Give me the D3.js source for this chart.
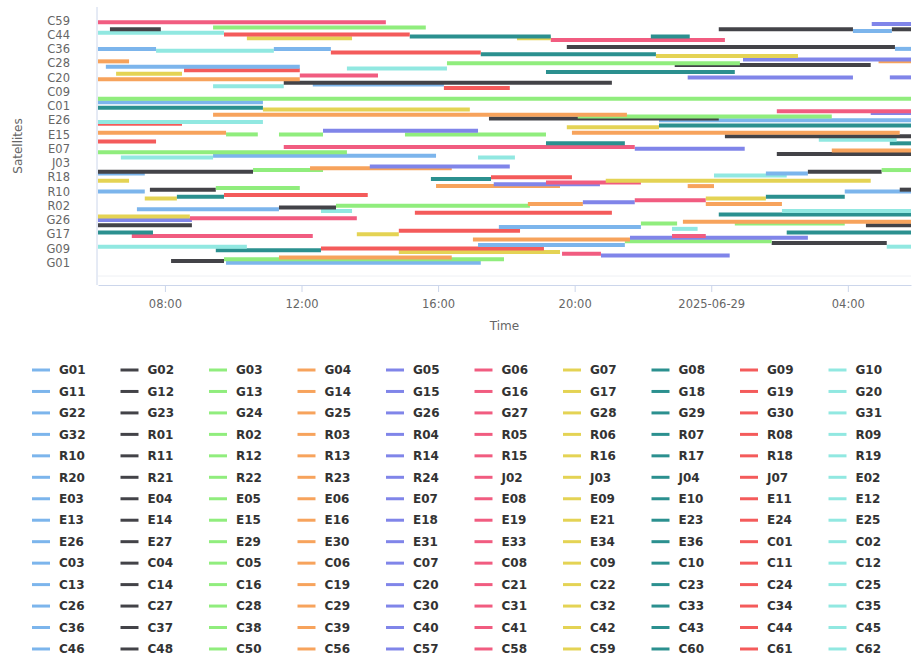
<!DOCTYPE html>
<html>
<head>
<meta charset="utf-8">
<script src="https://cdn.jsdelivr.net/npm/d3@7"></script>
<style>
  body { margin: 0; background: #fff; }
  svg { display: block; font-family: "DejaVu Sans", sans-serif; }
</style>
</head>
<body>
<svg id="chart" width="912" height="659"></svg>
<script>
// Series colours, cycled over the satellites in order
const palette = ["#7cb5ec", "#434348", "#90ed7d", "#f7a35c", "#8085e9",
                 "#f15c80", "#e4d354", "#2b908f", "#f45b5b", "#91e8e1"];

// Satellites per constellation
const gps = ["G01","G02","G03","G04","G05","G06","G07","G08","G09","G10",
             "G11","G12","G13","G14","G15","G16","G17","G18","G19","G20",
             "G22","G23","G24","G25","G26","G27","G28","G29","G30","G31","G32"];
const glonass = ["R01","R02","R03","R04","R05","R06","R07","R08","R09","R10",
                 "R11","R12","R13","R14","R15","R16","R17","R18","R19","R20",
                 "R21","R22","R23","R24"];
const qzss = ["J02","J03","J04","J07"];
const galileo = ["E02","E03","E04","E05","E06","E07","E08","E09","E10","E11",
                 "E12","E13","E14","E15","E16","E18","E19","E21","E23","E24",
                 "E25","E26","E27","E29","E30","E31","E33","E34","E36"];
const beidou = ["C01","C02","C03","C04","C05","C06","C07","C08","C09","C10",
                "C11","C12","C13","C14","C16","C19","C20","C21","C22","C23",
                "C24","C25","C26","C27","C28","C29","C30","C31","C32","C33",
                "C34","C35","C36","C37","C38","C39","C40","C41","C42","C43",
                "C44","C45","C46","C48","C50","C56","C57","C58","C59","C60",
                "C61","C62"];

// Visibility passes: [satellite, start, end], hours from 2025-06-28 00:00
const gpsPasses = [
  ["G01",9.79,17.25], ["G02",8.18,9.73], ["G03",9.73,17.93], ["G04",11.34,16.40],
  ["G05",20.77,24.54], ["G06",19.63,20.77], ["G07",14.85,19.57], ["G08",9.49,12.57],
  ["G09",12.57,19.10], ["G10",6.04,10.40], ["G10",29.14,29.85], ["G11",17.17,21.47],
  ["G12",25.77,29.14], ["G13",21.47,25.77], ["G14",17.02,21.62], ["G15",21.62,26.83],
  ["G16",7.03,12.33], ["G16",22.85,23.84], ["G17",13.62,14.85], ["G18",6.04,7.65],
  ["G18",26.21,29.85], ["G19",14.85,18.40], ["G20",22.85,23.60], ["G22",17.78,21.94],
  ["G23",6.04,8.79], ["G23",28.53,29.85], ["G24",21.94,23.00], ["G24",24.69,27.91],
  ["G25",23.17,29.85], ["G26",6.04,8.79], ["G27",8.73,13.62], ["G28",6.04,8.73],
  ["G29",24.22,29.85], ["G30",15.32,21.09], ["G31",12.57,13.48], ["G31",26.07,29.85],
  ["G32",7.18,11.34]
];
const glonassPasses = [
  ["R01",11.34,13.01], ["R02",13.01,18.69], ["R03",18.63,20.24], ["R03",23.84,26.07],
  ["R04",20.24,21.76], ["R05",21.76,23.84], ["R06",7.41,8.35], ["R06",23.84,25.60],
  ["R07",8.35,9.73], ["R07",25.60,27.91], ["R08",9.73,13.94], ["R10",6.04,7.41],
  ["R10",27.91,29.85], ["R11",7.56,9.49], ["R11",29.52,29.85], ["R12",9.49,11.95],
  ["R13",15.94,19.57], ["R13",23.31,24.08], ["R14",17.63,20.74], ["R15",19.16,21.94],
  ["R16",6.04,6.95], ["R16",20.91,28.67], ["R17",15.79,17.55], ["R18",17.55,19.92],
  ["R19",24.08,26.21], ["R20",6.04,7.41], ["R20",25.60,26.83], ["R21",6.04,10.58],
  ["R21",26.83,28.99], ["R22",10.58,12.63], ["R22",28.99,29.85], ["R23",12.25,16.40],
  ["R24",14.00,18.10]
];
const galileoPasses = [
  ["E02",6.71,9.41], ["E02",17.17,18.25], ["E03",9.41,15.94], ["E04",25.92,29.85],
  ["E05",6.04,13.33], ["E06",27.53,29.85], ["E07",21.76,24.98], ["E08",11.48,21.76],
  ["E10",19.16,21.47], ["E10",29.23,29.85], ["E11",6.04,7.74], ["E12",27.15,29.43],
  ["E14",24.40,29.85], ["E15",9.79,10.72], ["E15",11.34,12.63], ["E15",15.03,19.16],
  ["E16",6.04,9.79], ["E16",19.92,29.52], ["E18",12.63,17.17], ["E21",19.77,22.47],
  ["E23",22.47,29.85], ["E24",6.04,8.50], ["E25",6.04,10.87], ["E26",22.47,29.85],
  ["E27",17.49,24.22], ["E29",20.09,27.53], ["E30",9.41,21.53], ["E31",28.67,29.85],
  ["E33",25.92,29.85], ["E34",10.87,16.93], ["E36",6.04,10.87]
];
const beidouPasses = [
  ["C03",6.04,10.87], ["C05",6.04,29.85], ["C11",16.17,18.10], ["C12",9.41,11.48],
  ["C13",12.33,16.17], ["C14",11.48,21.09], ["C19",6.04,11.95], ["C20",23.31,28.15],
  ["C20",29.23,29.85], ["C21",11.95,14.24], ["C22",6.57,8.50], ["C23",19.16,24.69],
  ["C24",8.56,11.95], ["C25",13.33,16.26], ["C26",6.27,11.95], ["C27",22.93,28.67],
  ["C28",16.26,24.84], ["C29",6.04,6.95], ["C29",28.90,29.85], ["C30",24.93,29.85],
  ["C32",22.38,26.54], ["C33",17.25,22.38], ["C34",12.86,17.25], ["C35",7.74,11.19],
  ["C36",6.04,7.74], ["C36",11.19,12.86], ["C36",29.38,29.85], ["C37",19.77,29.38],
  ["C41",19.30,24.40], ["C42",10.40,13.48], ["C42",18.31,19.30], ["C43",15.17,19.30],
  ["C43",22.23,23.37], ["C44",9.73,15.17], ["C45",6.04,9.73], ["C46",28.15,29.29],
  ["C48",6.39,7.88], ["C48",24.22,28.15], ["C48",29.29,29.85], ["C50",9.41,15.64],
  ["C57",28.70,29.85], ["C58",6.04,14.47]
];

// Time window shown on the x axis (hours from 2025-06-28 00:00)
const timeWindow = [6.04, 29.85];
const tickHours = [8, 12, 16, 20, 24, 28];
const labelEvery = 8;

const satellites = [...gps, ...glonass, ...qzss, ...galileo, ...beidou];
const passes = [...gpsPasses, ...glonassPasses, ...galileoPasses, ...beidouPasses];

const day0 = Date.UTC(2025, 5, 28);
const toDate = h => new Date(day0 + h * 3600e3);

const svg = d3.select("#chart");
const plot = { left: 98, right: 911, top: 7, bottom: 285 };

const x = d3.scaleUtc()
  .domain(timeWindow.map(toDate))
  .range([plot.left, plot.right]);

// satellite index -> vertical position
const y = d3.scaleLinear()
  .domain([-12.5, 143.5])
  .range([plot.bottom, plot.top]);

const satIndex = new Map(satellites.map((s, i) => [s, i]));
const color = s => palette[satIndex.get(s) % palette.length];

// Axes
const fmtTime = d3.utcFormat("%H:%M");
const fmtDay = d3.utcFormat("%Y-%m-%d");
const xAxis = d3.axisBottom(x)
  .tickValues(tickHours.map(toDate))
  .tickSize(7)
  .tickSizeOuter(0)
  .tickPadding(8)
  .tickFormat(d => d.getUTCHours() === 0 ? fmtDay(d) : fmtTime(d));

const gx = svg.append("g")
  .attr("transform", `translate(0,${plot.bottom})`)
  .call(xAxis);
gx.select(".domain").attr("stroke", "#ccd6eb");
gx.selectAll(".tick line").attr("stroke", "#ccd6eb");
gx.selectAll(".tick text")
  .attr("fill", "#666")
  .style("font-size", "11.5px")
  .style("font-family", "DejaVu Sans, sans-serif");

// faint frame line at the bottom of the drawing area
svg.append("line")
  .attr("x1", plot.left).attr("x2", plot.right)
  .attr("y1", plot.bottom - 9).attr("y2", plot.bottom - 9)
  .attr("stroke", "#eef0f4");

const yAxis = d3.axisLeft(y)
  .tickValues(d3.range(0, satellites.length, labelEvery))
  .tickSize(0)
  .tickPadding(27)
  .tickFormat(i => satellites[i]);

const gy = svg.append("g")
  .attr("transform", `translate(${plot.left - 1},0)`)
  .call(yAxis);
gy.select(".domain")
  .attr("stroke", "#ccd6eb")
  .attr("d", `M0,${plot.top}V${plot.bottom}`);
gy.selectAll(".tick text")
  .attr("fill", "#666")
  .style("font-size", "11.5px")
  .style("font-family", "DejaVu Sans, sans-serif");

// Axis titles
svg.append("text")
  .attr("x", (plot.left + plot.right) / 2)
  .attr("y", 330)
  .attr("text-anchor", "middle")
  .attr("fill", "#666")
  .style("font-size", "12px")
  .text("Time");

svg.append("text")
  .attr("transform", `translate(22,${(plot.top + plot.bottom) / 2}) rotate(-90)`)
  .attr("text-anchor", "middle")
  .attr("fill", "#666")
  .style("font-size", "12px")
  .text("Satellites");

// Passes, drawn in satellite order so later series sit on top
const ordered = passes.slice().sort((a, b) => satIndex.get(a[0]) - satIndex.get(b[0]));
svg.append("g")
  .attr("clip-path", null)
  .selectAll("line")
  .data(ordered)
  .join("line")
  .attr("x1", d => x(toDate(d[1])))
  .attr("x2", d => x(toDate(d[2])))
  .attr("y1", d => y(satIndex.get(d[0])))
  .attr("y2", d => y(satIndex.get(d[0])))
  .attr("stroke", d => color(d[0]))
  .attr("stroke-width", 4);

// Legend: 10 columns
const legendCols = 10;
const legend = svg.append("g");
const item = legend.selectAll("g")
  .data(satellites)
  .join("g")
  .attr("transform", (d, i) =>
    `translate(${32 + (i % legendCols) * 88.5},${370 + Math.floor(i / legendCols) * 21.46})`);
item.append("line")
  .attr("x1", 0).attr("x2", 18)
  .attr("stroke", d => color(d))
  .attr("stroke-width", 3);
item.append("text")
  .attr("x", 27)
  .attr("dy", "0.35em")
  .attr("fill", "#333")
  .style("font-size", "12px")
  .style("font-weight", "bold")
  .text(d => d);
</script>
</body>
</html>
